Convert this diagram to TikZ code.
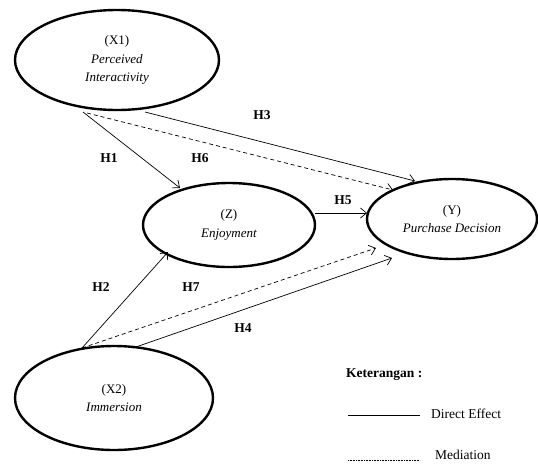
\documentclass[tikz,border=0pt]{standalone}
\usepackage{fontspec}
\setmainfont{Liberation Serif}
\usetikzlibrary{arrows.meta,shapes.geometric}
\begin{document}
\begin{tikzpicture}[x=1pt,y=-1pt,
  latent/.style={draw,line width=2.4pt,ellipse,inner sep=0pt,align=center,font=\fontsize{13}{18.5}\selectfont},
  direct/.style={line width=0.7pt,-{Straight Barb[length=6pt,width=10pt]}},
  mediate/.style={line width=0.7pt,dash pattern=on 4pt off 3pt,-{Straight Barb[length=6pt,width=10pt]}},
  hlabel/.style={font=\fontsize{13.5}{15}\selectfont\bfseries},
  legtext/.style={font=\fontsize{13.5}{15}\selectfont,anchor=west}]
\useasboundingbox (0,0) rectangle (538,464);
\node[latent,minimum width=204pt,minimum height=100pt] (x1) at (117,60) {(X1)\\\textit{Perceived}\\\textit{Interactivity}};
\node[latent,minimum width=172pt,minimum height=84pt] (z) at (229,225) {(Z)\\\textit{Enjoyment}};
\node[latent,minimum width=170pt,minimum height=80pt] (y) at (452,219) {(Y)\\\textit{Purchase Decision}};
\node[latent,minimum width=198pt,minimum height=104pt] (x2) at (114,398) {(X2)\\\textit{Immersion}};
% connector endpoints
\coordinate (h1s) at (83,112);
\coordinate (h1e) at (180,188);
\coordinate (h6s) at (87,113);
\coordinate (h6e) at (393,190);
\coordinate (h3s) at (145,112);
\coordinate (h3e) at (415,181);
\coordinate (h5s) at (315,213);
\coordinate (h5e) at (367,213);
\coordinate (h2s) at (82,348);
\coordinate (h2e) at (168,252);
\coordinate (h7e) at (376,248);
\coordinate (h4s) at (133,348);
\coordinate (h4e) at (392,258);
\draw[direct] (h1s) -- (h1e);
\draw[mediate] (h6s) -- (h6e);
\draw[direct] (h3s) -- (h3e);
\draw[direct] (h5s) -- (h5e);
\draw[direct] (h2s) -- (h2e);
\draw[mediate] (h2s) -- (h7e);
\draw[direct] (h4s) -- (h4e);
\node[hlabel] (l1) at (109,158) {H1};
\node[hlabel] (l6) at (200,158) {H6};
\node[hlabel] (l3) at (262,115) {H3};
\node[hlabel] (l5) at (343,200) {H5};
\node[hlabel] (l2) at (101,287) {H2};
\node[hlabel] (l7) at (191,287) {H7};
\node[hlabel] (l4) at (243,328) {H4};
% legend
\node[font=\fontsize{13.5}{15}\selectfont\bfseries,anchor=west,inner sep=0pt] (leg) at (346,375) {Keterangan :};
\coordinate (d1) at (348,415);
\coordinate (d2) at (420,415);
\draw[line width=0.6pt] (d1) -- (d2);
\node[legtext,inner sep=0pt] (dt) at (431,414) {Direct Effect};
\coordinate (m1) at (348,460);
\coordinate (m2) at (420,460);
\draw[line width=0.6pt,dash pattern=on 1pt off 0.6pt] (m1) -- (m2);
\node[legtext,inner sep=0pt] (mt) at (435,455) {Mediation};
\end{tikzpicture}
\end{document}
